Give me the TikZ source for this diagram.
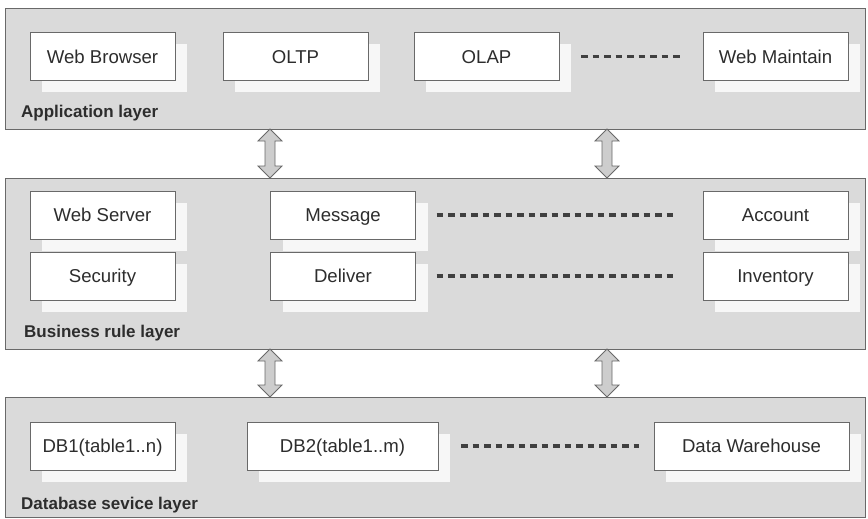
\documentclass[tikz,border=0pt]{standalone}
\usepackage{fontspec}
\setmainfont{Liberation Sans}
\usetikzlibrary{shadows,calc}
\definecolor{layerfill}{RGB}{218,218,218}
\definecolor{edgegray}{RGB}{105,105,105}
\definecolor{textgray}{RGB}{45,45,45}
\definecolor{arrowfill}{RGB}{205,205,205}
\begin{document}
\begin{tikzpicture}[x=1pt,y=-1pt,
  layer/.style={draw=edgegray, fill=layerfill, line width=0.8pt, inner sep=0pt, outer sep=0pt, minimum width=860pt},
  box/.style={draw=edgegray, fill=white, line width=0.8pt, inner sep=0pt, outer sep=0pt,
    minimum width=145pt, minimum height=48pt, text=textgray,
    text height=15pt, text depth=1.7pt,
    font=\fontsize{18.6}{20}\selectfont,
    drop shadow={shadow xshift=12pt, shadow yshift=-12pt, fill=white!94!gray, opacity=1}},
  lab/.style={anchor=west, inner sep=0pt, text=textgray, font=\bfseries\fontsize{17}{19}\selectfont},
  dots/.style={draw=black!75, line width=3.2pt, dash pattern=on 6.5pt off 5pt},
  fat/.style={draw=edgegray, fill=arrowfill, line width=0.8pt, line join=miter}]
\useasboundingbox (0,0) rectangle (868,519);

% layers
\node[layer, minimum height=121pt] (L1) at (435,68.5) {};
\node[layer, minimum height=171pt] (L2) at (435,263.5) {};
\node[layer, minimum height=120pt] (L3) at (435,457) {};

% application layer
\node[box] (wb) at (102.5,56.5) {Web Browser};
\node[box] (oltp) at (295.5,56.5) {OLTP};
\node[box] (olap) at (486.5,56.5) {OLAP};
\node[box] (wm) at (775.5,56.5) {Web Maintain};
\draw[dots] ([xshift=22pt]olap.east) -- ([xshift=-22pt]wm.west);
\node[lab] (l1) at (21,113) {Application layer};

% business rule layer
\node[box] (ws) at (102.5,215) {Web Server};
\node[box] (sec) at (102.5,276) {Security};
\node[box] (msg) at (343,215) {Message};
\node[box] (del) at (343,276) {Deliver};
\node[box] (acc) at (775.5,215) {Account};
\node[box] (inv) at (775.5,276) {Inventory};
\draw[dots] ([xshift=21pt]msg.east) -- ([xshift=-29pt]acc.west);
\draw[dots] ([xshift=21pt]del.east) -- ([xshift=-29pt]inv.west);
\node[lab] (l2) at (24,333) {Business rule layer};

% database layer
\node[box] (db1) at (102.5,446) {DB1(table1..n)};
\node[box, minimum width=191pt] (db2) at (342.5,446) {DB2(table1..m)};
\node[box, minimum width=195pt] (dw) at (751.5,446) {Data Warehouse};
\draw[dots] ([xshift=23pt]db2.east) -- ([xshift=-15pt]dw.west);
\node[lab] (l3) at (21,505) {Database sevice layer};

% fat double arrows between layers
\foreach \ax/\up/\dn in {270/L1/L2, 607/L1/L2, 270/L2/L3, 607/L2/L3}{
  \coordinate (at) at (\up.south -| \ax,0);
  \coordinate (ab) at (\dn.north -| \ax,0);
  \draw[fat] (at) -- ($(at)+(12,12)$) -- ($(at)+(5,12)$) -- ($(ab)+(5,-12)$)
    -- ($(ab)+(12,-12)$) -- (ab) -- ($(ab)+(-12,-12)$) -- ($(ab)+(-5,-12)$)
    -- ($(at)+(-5,12)$) -- ($(at)+(-12,12)$) -- cycle;
}
\end{tikzpicture}
\end{document}
